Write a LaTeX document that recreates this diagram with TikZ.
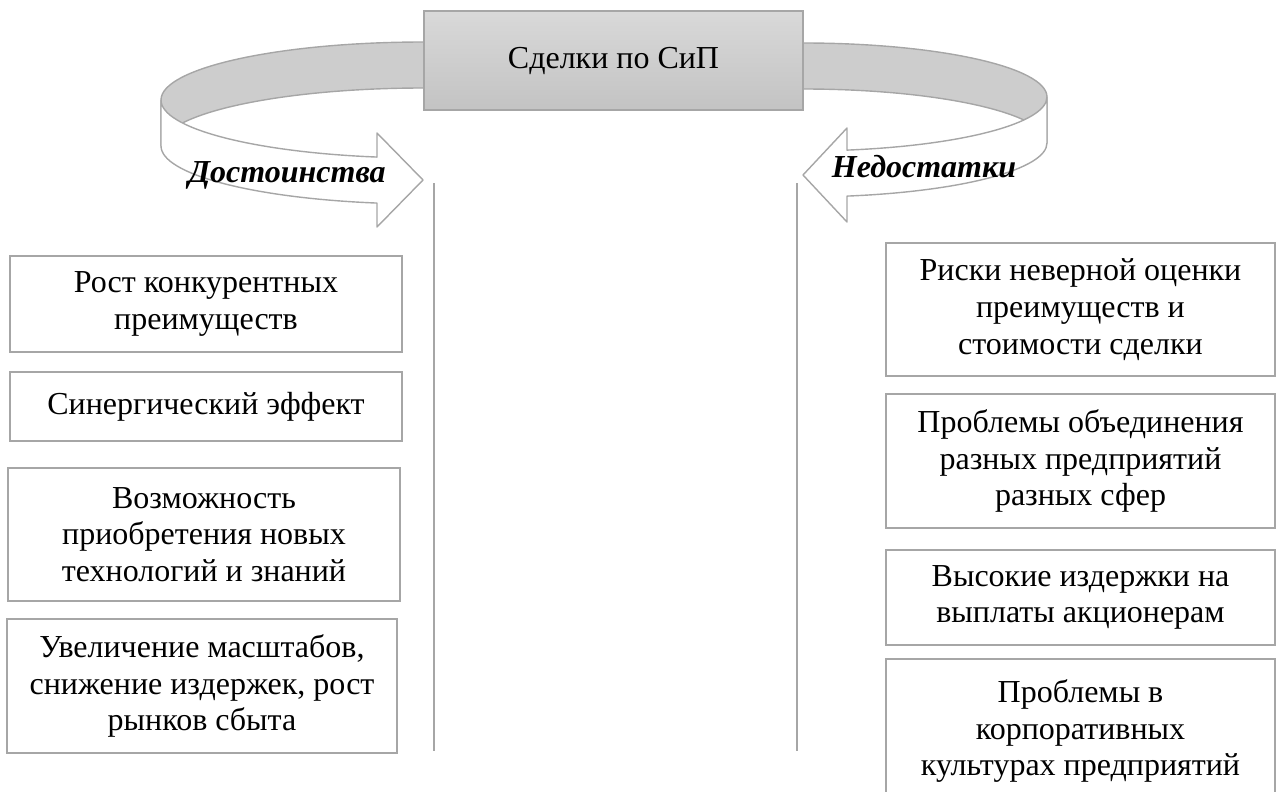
\documentclass[tikz,border=0pt]{standalone}
\usepackage{fontspec}
\setmainfont{Liberation Serif}
\definecolor{linegray}{HTML}{A6A6A6}
\definecolor{bandgray}{HTML}{CDCDCD}
\begin{document}
\begin{tikzpicture}[x=1pt,y=1pt,
  every node/.style={font=\fontsize{32}{36.8}\selectfont},
  item/.style={draw=linegray, line width=1.6pt, fill=white, align=center, inner sep=0pt},
  band/.style={draw=linegray, line width=1.4pt, line join=round},
  vline/.style={draw=linegray, line width=1.8pt},
  lbl/.style={font=\fontsize{32}{36.8}\selectfont\bfseries\itshape, anchor=base, inner sep=0pt}
]
\useasboundingbox (0,0) rectangle (1277,-792);
\clip (0,0) rectangle (1277,-792);

% back (gray) parts of the ribbons
\path[band, fill=bandgray] (424,-42) arc[start angle=90, end angle=180, x radius=263pt, y radius=58pt]
  -- (161,-146) arc[start angle=180, end angle=90, x radius=263pt, y radius=58pt] -- cycle;
\path[band, fill=bandgray] (803,-43) arc[start angle=90, end angle=0, x radius=244pt, y radius=54pt]
  -- (1047,-143) arc[start angle=0, end angle=90, x radius=244pt, y radius=54pt] -- cycle;

% central box
\node[draw=linegray, line width=1.6pt, top color=gray!30, bottom color=gray!47,
      minimum width=379pt, minimum height=99pt, inner sep=0pt] (deal) at (613.5,-60.5) {Сделки по СиП};

% front (white) parts with arrow heads
\path[band, fill=white] (161,-100) arc[start angle=180, end angle=259.70, x radius=263pt, y radius=58pt]
  -- (377,-133) -- (423,-180) -- (377,-227) -- (377,-203.07)
  arc[start angle=259.70, end angle=180, x radius=263pt, y radius=58pt] -- cycle;
\path[band, fill=white] (1047,-97) arc[start angle=360, end angle=280.39, x radius=244pt, y radius=54pt]
  -- (847,-128) -- (803,-175) -- (847,-222) -- (847,-196.1)
  arc[start angle=280.39, end angle=360, x radius=244pt, y radius=54pt] -- cycle;

\node[lbl] (adv) at (287,-182) {Достоинства};
\node[lbl] (dis) at (924,-177) {Недостатки};

% vertical lines
\coordinate (lt) at (434,-183); \coordinate (lb) at (434,-751);
\coordinate (rt) at (797,-183); \coordinate (rb) at (797,-751);
\draw[vline] (lt) -- (lb);
\draw[vline] (rt) -- (rb);

% left boxes
\node[item, minimum width=392pt, minimum height=96pt] (l1) at (206,-304) {Рост конкурентных\\преимуществ};
\node[item, minimum width=392pt, minimum height=69pt] (l2) at (206,-406.5) {Синергический эффект};
\node[item, minimum width=392pt, minimum height=133pt] (l3) at (204,-534.5) {Возможность\\приобретения новых\\технологий и знаний};
\node[item, minimum width=390pt, minimum height=134pt] (l4) at (202,-686) {Увеличение масштабов,\\снижение издержек, рост\\рынков сбыта};

% right boxes
\node[item, minimum width=389pt, minimum height=133pt] (r1) at (1080.5,-309.5) {Риски неверной оценки\\преимуществ и\\стоимости сделки};
\node[item, minimum width=389pt, minimum height=134pt] (r2) at (1080.5,-461) {Проблемы объединения\\разных предприятий\\разных сфер};
\node[item, minimum width=389pt, minimum height=95pt] (r3) at (1080.5,-597.5) {Высокие издержки на\\выплаты акционерам};
\node[item, minimum width=389pt, minimum height=144pt] (r4) at (1080.5,-731) {Проблемы в\\корпоративных\\культурах предприятий};
\end{tikzpicture}
\end{document}
